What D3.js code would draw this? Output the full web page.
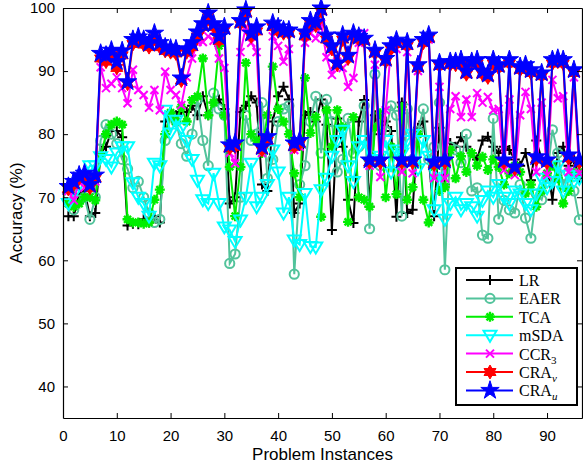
<!DOCTYPE html>
<html>
<head>
<meta charset="utf-8">
<script src="https://cdn.jsdelivr.net/npm/d3@7"></script>
<style>
body{margin:0;background:#fff;}
svg{display:block;}
</style>
</head>
<body>
<div id="chart"></div>
<script>
// accuracy (%) per problem instance
var lr = [67,67,70.5,71,67,67.5, 77,78,80.5,80.5,79.5,65.5, 65.8,65.7,66.5,66,67,66,
  82,83.5,83,83.5,83.5,84.5, 83,86,83,85,85.5,84, 69,70,83.5,84.5,86,85,
  72,71,82,86,87.5,85.5, 67.5,69,83,83.5,82,85.5, 81.5,64.8,82.5,78,69.6,65.9,
  82,85.4,68.5,83,80,82, 80.5,66.9,85,67.5,68,81, 82,76,67,81,72,78.6,
  78,79.5,78,77,76,79, 79.6,78,77,78,77.5,76, 75,77,72.7,79,76,75, 69.6,77,78,75,76,73];
var eaer = [70,68,69.5,70,66.5,70, 79,81.5,80,78.5,76,74.5, 71.5,72.5,70,67.5,66,66.5,
  79,83,82,78.5,76.5,80, 85.5,79,75,86.5,84,83, 59.5,61,70,83,79,80,
  85,73,76,82,84,84.5, 57.8,72,75,82,86,77, 85.5,82,74,76,82.5,77,
  78,84.5,65,89.5,75,80.5, 84.5,83,67,84,76,80.5, 84,76,78,85,58.5,78,
  77.5,75.5,80,71,71.5,64, 63.5,82.5,66.5,69.5,68,67.5, 72,66.7,63.5,70.5,69.6,73, 80.7,77,72,74,71,66.4];
var tca = [69,68.5,69,70,70,69.5, 76.5,80,81.5,82,81.5,66.5, 66,66,65.8,66,69.6,71.2,
  80,83.4,82,84.3,82,85.4, 86,92,83,85,94,83, 74.8,67,74.8,91.3,80,79,
  77,83,90.7,84,82,80, 73.8,70,88.9,80.2,82.7,66.9, 83.8,78,83.8,81.1,66.1,82.7,
  70,69.6,68.5,81,83.3,70, 78,70.5,84.3,69.6,71.6,80, 69.6,66,74.8,71,71.6,77.5,
  73,76.5,74,77,75,76.4, 74.3,76,74.8,72,73.8,75, 74,70.6,72,68.5,71,73.8, 75,73,69,71,73.8,74];
var msda = [69,70.5,72,73.5,75,75, 76.4,76,74.8,77,78,78, 72.3,70,69,67,75.4,75,
  83.8,80.2,82.2,81,79,76, 72.7,69.6,69,73.8,69,65.3, 64.8,63,66.4,70,75.4,68.5,
  70,72,77.5,74,67.5,70, 63.2,62.5,70.6,62.2,62.1,71.2, 73,76.5,79,80.6,75,72.5,
  78,79,75.5,76,76.5,79, 74,77.5,77,79,80,74.5, 79,76.5,68,74,66.5,69,
  70,68,69,68.5,67,69.5, 71,70,72,70,69,71, 70.5,69,68,70.5,73,71.5, 72.5,75,71,73.5,72.5,73];
var ccr3 = [71,69.5,72.5,71.5,72.5,72.5, 90.6,87.3,88,89,87.3,84.9, 90.2,87,86.2,84.2,87,83.8,
  89.9,87,86.2,84.6,89,92, 94.6,94.6,95.5,94.8,92,90.5, 77,75.4,93,97,94.5,93,
  77,79,95.5,94,91.5,93.5, 77.5,78,94.5,96,95.2,97.5, 92.2,89.4,91.5,90.5,87.5,88.9,
  94.5,96,75,91,73.2,83.8, 93.8,93.5,74,93,73.8,90, 94.5,95,73,87.5,73,84,
  86,82.7,85.5,82.7,86.5,85, 85.9,83.8,84,74.3,85.5,73.5, 83,86.7,84,74,85,73.5, 88.6,85.7,86,74,89,73.8];
var crav = [71.3,72,73,73.2,71.5,73, 92,91.5,92.5,90.5,92.5,88, 94.3,94.8,94.2,93.8,95.2,93.8,
  93.2,93,92.8,88.5,93,93.8, 95.5,97,98.8,97,94.8,96.5, 77.8,78,97.5,99.2,95.5,96.3,
  77.5,79,97,96.3,96,96, 78,78.5,95.5,97.5,97.2,99.5, 95,93.5,91,95,92,95.5,
  95,94.8,75.5,92.8,75.5,91.5, 93.5,94.3,75.5,94,75.5,90.5, 94.5,95.2,75.2,90.8,75.5,91,
  91,91.2,89.5,91,91.2,89.5, 89,91.2,90.5,75.5,91.2,74.5, 90.2,90.5,89.7,76,89.2,75.5, 91.2,91.5,91.2,76.2,89.7,75.5];
var crau = [71.7,72.5,73.5,73.8,72,73.5, 92.8,92.5,93.3,91.5,93.2,88.3, 95,95.4,95,94.4,96,94.5,
  93.8,93.6,93.5,88.9,93.5,94.5, 96.2,97.5,99.2,97.5,95.5,97, 78.3,78.6,98,99.7,96,97,
  78,79.6,97.6,97,96.5,96.5, 78.6,79,96.2,98,97.8,100, 95.7,94,91.3,95.7,92.5,96,
  95.5,95.2,75.9,93.3,75.9,92, 94,94.9,75.9,94.6,75.9,91, 95,95.7,75.6,91.3,75.9,91.5,
  91.5,91.8,90,91.5,91.8,90, 89.5,91.8,91,75.9,91.8,74.8, 90.7,91,90.2,76.4,89.7,75.9, 91.8,92,91.8,76.7,90.2,75.9];

var instances = d3.range(1, lr.length + 1);
var xTicks = [0,10,20,30,40,50,60,70,80,90];
var yTicks = [40,50,60,70,80,90,100];

var width = 583, height = 467;
var plotL = 63, plotR = 582, plotT = 8, plotB = 418;

var svg = d3.select('#chart').append('svg')
    .attr('width', width)
    .attr('height', height);

svg.append('rect').attr('width', width).attr('height', height).attr('fill', '#fff');

var x = d3.scaleLinear().domain([0, 96.5]).range([plotL, plotR]);
var y = d3.scaleLinear().domain([35, 100]).range([plotB, plotT]);

// marker drawers
function plus(g, c){ g.append('path').attr('d','M-5,0H5M0,-5V5').attr('stroke',c).attr('stroke-width',2).attr('fill','none'); }
function circ(g, c){ g.append('circle').attr('r',4.6).attr('stroke',c).attr('stroke-width',2).attr('fill','none'); }
function aster(g, c){ g.append('path').attr('d','M-5,0H5M0,-5V5M-3.5,-3.5L3.5,3.5M-3.5,3.5L3.5,-3.5').attr('stroke',c).attr('stroke-width',2.4).attr('fill','none'); }
function tri(g, c){ g.append('path').attr('d','M-6.5,-4.5H6.5L0,6.5Z').attr('stroke',c).attr('stroke-width',2).attr('fill','none'); }
function cross(g, c){ g.append('path').attr('d','M-4,-4L4,4M-4,4L4,-4').attr('stroke',c).attr('stroke-width',2).attr('fill','none'); }
function hexa(g, c){ g.append('path').attr('d','M0,-7L6,3.5H-6ZM0,7L-6,-3.5H6Z').attr('stroke',c).attr('stroke-width',1).attr('fill',c); }
function star(g, c){ g.append('path').attr('d', d3.symbol(d3.symbolStar, 105)()).attr('stroke',c).attr('stroke-width',1).attr('fill',c); }

var series = [
  {name:'LR', values: lr, color:'#000000', mark: plus},
  {name:'EAER', values: eaer, color:'#52c39b', mark: circ},
  {name:'TCA', values: tca, color:'#00ee00', mark: aster},
  {name:'mSDA', values: msda, color:'#00ffff', mark: tri},
  {name:'CCR', sub:'3', values: ccr3, color:'#ff00ff', mark: cross},
  {name:'CRA', sub:'v', values: crav, color:'#ff0000', mark: hexa},
  {name:'CRA', sub:'u', values: crau, color:'#0000ff', mark: star}
];

var line = d3.line()
    .x(function(d,i){ return x(instances[i]); })
    .y(function(d){ return y(d); });

series.forEach(function(s){
  var g = svg.append('g');
  g.append('path')
    .datum(s.values)
    .attr('d', line)
    .attr('fill','none')
    .attr('stroke', s.color)
    .attr('stroke-width', 2);
  g.selectAll('g.m')
    .data(s.values)
    .enter().append('g')
    .attr('class','m')
    .attr('transform', function(d,i){ return 'translate(' + x(instances[i]) + ',' + y(d) + ')'; })
    .each(function(){ s.mark(d3.select(this), s.color); });
});

// axes, matlab style ticks pointing in
var axisFont = '"Liberation Sans", Arial, sans-serif';
var xAxis = d3.axisBottom(x).tickValues(xTicks).tickSizeInner(-5).tickSizeOuter(0).tickPadding(12);
var yAxis = d3.axisLeft(y).tickValues(yTicks).tickSizeInner(-5).tickSizeOuter(0).tickPadding(8);

svg.append('g').attr('transform','translate(0,' + plotB + ')').call(xAxis);
svg.append('g').attr('transform','translate(' + plotL + ',0)').call(yAxis);
svg.append('g').attr('transform','translate(0,' + plotT + ')')
  .call(d3.axisTop(x).tickValues(xTicks).tickSizeInner(-5).tickSizeOuter(0).tickFormat(''));
svg.append('g').attr('transform','translate(' + plotR + ',0)')
  .call(d3.axisRight(y).tickValues(yTicks).tickSizeInner(-5).tickSizeOuter(0).tickFormat(''));

svg.selectAll('.domain').attr('stroke','#000').attr('stroke-width',1.2);
svg.selectAll('.tick line').attr('stroke','#000');
svg.selectAll('.tick text').attr('fill','#000').style('font-family', axisFont).style('font-size','15px');

svg.append('text')
  .attr('x', (plotL + plotR) / 2)
  .attr('y', 460)
  .attr('text-anchor','middle')
  .style('font-family', axisFont).style('font-size','17px')
  .text('Problem Instances');

svg.append('text')
  .attr('transform','translate(22,' + (plotT + plotB) / 2 + ') rotate(-90)')
  .attr('text-anchor','middle')
  .style('font-family', axisFont).style('font-size','17px')
  .text('Accuracy (%)');

// legend
var legend = svg.append('g');
legend.append('rect')
  .attr('x',456).attr('y',268).attr('width',121).attr('height',137)
  .attr('fill','#fff').attr('stroke','#000').attr('stroke-width',2);

series.forEach(function(s, i){
  var ly = 280 + i * 18.4;
  var row = legend.append('g');
  row.append('line').attr('x1',466).attr('x2',513).attr('y1',ly).attr('y2',ly)
    .attr('stroke', s.color).attr('stroke-width',2);
  var mg = row.append('g').attr('transform','translate(490,' + ly + ')');
  s.mark(mg, s.color);
  var t = row.append('text').attr('x',519).attr('y', ly + 6)
    .style('font-family','"Liberation Serif", "Times New Roman", serif').style('font-size','16px')
    .text(s.name);
  if (s.sub) {
    t.append('tspan').attr('dy',4).style('font-size','11px')
      .style('font-style', s.sub === '3' ? 'normal' : 'italic')
      .text(s.sub);
  }
});
</script>
</body>
</html>
